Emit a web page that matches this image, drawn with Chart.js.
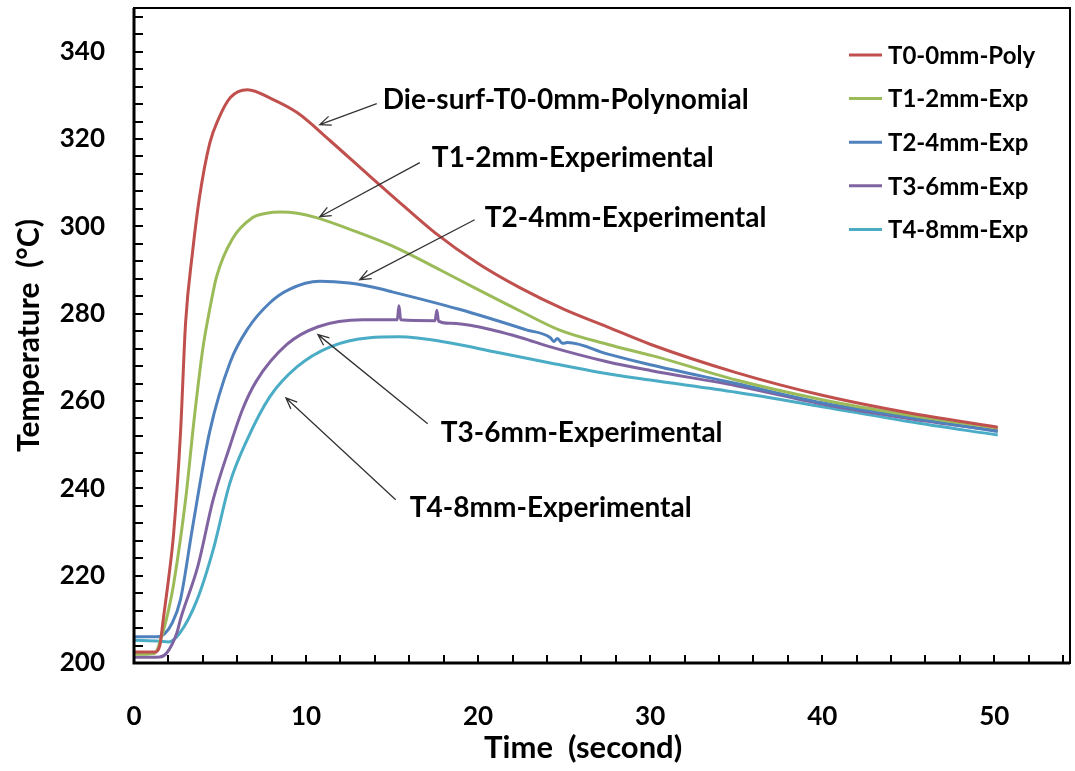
<!DOCTYPE html>
<html>
<head>
<meta charset="utf-8">
<title>Die temperature</title>
<script src="https://cdn.jsdelivr.net/npm/chart.js@4.4.1/dist/chart.umd.min.js"></script>
<style>
  body { margin: 0; background: #fff; }
  #wrap { width: 1075px; height: 771px; }
</style>
</head>
<body>
<div id="wrap"><canvas id="myChart" width="1075" height="771"></canvas></div>
<script>
// series: time (s) and temperature (degC)
const t0Time = [0, 1.2, 1.5, 1.7, 2.0, 2.3, 2.7, 3.0, 3.4, 3.8, 4.4, 4.9, 5.6, 6.6, 8.0, 9.5, 11.4, 13.7, 15, 17.5, 20, 22.5, 25, 27.5, 30, 35, 40, 45, 50.2];
const t0Temp = [202.5, 202.5, 204, 210, 219, 229.5, 252.5, 278, 294, 306.5, 319, 324.5, 329.5, 331.3, 329.2, 326, 319.6, 311.5, 307, 298.5, 291.5, 285.8, 281, 277, 273, 266.5, 261.3, 257.3, 254];

const t1Time = [0, 1.2, 1.6, 2.0, 2.3, 3.0, 3.5, 4.0, 4.4, 4.8, 5.7, 6.9, 7.7, 8.5, 9.5, 10.6, 13.1, 15, 17.8, 20, 22.5, 24.7, 27.5, 30.5, 35, 40, 45, 50.2];
const t1Temp = [202, 202.2, 206, 212, 218, 237.5, 256, 272, 281, 288.5, 297, 302, 303, 303.3, 303, 302, 298.5, 295.5, 290, 285.5, 280.5, 276.3, 273, 270, 264.8, 260.3, 256.8, 253.8];

const t2Time = [0, 1.3, 1.8, 2.2, 2.7, 3.4, 4.4, 5.6, 6.6, 7.9, 9.0, 10.8, 12.5, 13.7, 15, 18.9, 22.8, 24.2, 24.4, 24.6, 24.9, 25.2, 27.5, 30, 35, 40, 45, 50.2];
const t2Temp = [206, 206, 206.8, 209, 214.5, 231, 253, 269, 276.5, 282.5, 285.5, 287.4, 287, 286.2, 285, 281, 276.3, 274.5, 273.6, 274.3, 273.2, 273.4, 270.8, 268.3, 264, 259.6, 256.3, 253];

const t3Time = [0, 1.5, 1.9, 2.5, 2.7, 3.7, 4.6, 5.6, 6.3, 7.1, 8.9, 10.7, 13.3, 15.3, 15.4, 15.5, 17.5, 17.6, 17.7, 18.4, 20, 22.5, 24.2, 27.5, 30, 35, 40, 45, 50.2];
const t3Temp = [201.3, 201.4, 202.3, 207, 210, 222, 237.4, 250, 258, 264.5, 273, 277, 278.6, 278.6, 281.8, 278.6, 278.4, 280.8, 278.3, 277.8, 277, 274.5, 272.4, 269, 267, 263.5, 259.3, 256, 253.2];

const t4Time = [0, 1.5, 2.0, 2.67, 3.66, 4.6, 5.57, 6.56, 7.9, 9.47, 11.4, 13.7, 15.4, 18.4, 21, 24.2, 27, 30, 35, 40, 45, 50.2];
const t4Temp = [205.2, 205, 204.8, 206.9, 214.4, 225.9, 241.2, 251, 261, 267.8, 272.4, 274.5, 274.7, 273.3, 271.2, 268.7, 266.6, 264.8, 262, 258.7, 255.3, 252.2];

const seriesNames = ["T0-0mm-Poly", "T1-2mm-Exp", "T2-4mm-Exp", "T3-6mm-Exp", "T4-8mm-Exp"];
const seriesColors = ["#C0504D", "#9BBB59", "#4F81BD", "#8064A2", "#4BACC6"];

const xTickLabels = [0, 10, 20, 30, 40, 50];
const yTickLabels = [200, 220, 240, 260, 280, 300, 320, 340];

// callout labels: text start (x, y) and arrow from tail to tip, in data units
const calloutText = ["Die-surf-T0-0mm-Polynomial", "T1-2mm-Experimental", "T2-4mm-Experimental", "T3-6mm-Experimental", "T4-8mm-Experimental"];
const calloutAt = [[14.46, 329.0], [17.31, 315.7], [20.38, 302.0], [17.83, 252.7], [16.03, 235.5]];
const calloutTail = [[14.11, 328.1], [16.61, 314.6], [19.80, 301.5], [17.07, 254.8], [15.21, 237.4]];
const calloutTip = [[10.80, 323.3], [10.80, 302.2], [13.12, 287.8], [10.69, 275.2], [8.83, 260.7]];

const FONT = "Lato, 'Open Sans', sans-serif";
const ctx = document.getElementById("myChart").getContext("2d");

function toPoints(xs, ys) {
  return xs.map((x, i) => ({ x: x, y: ys[i] }));
}

const allTimes = [t0Time, t1Time, t2Time, t3Time, t4Time];
const allTemps = [t0Temp, t1Temp, t2Temp, t3Temp, t4Temp];

const datasets = seriesNames.map((name, i) => ({
  label: name,
  data: toPoints(allTimes[i], allTemps[i]),
  borderColor: seriesColors[i],
  backgroundColor: seriesColors[i],
  borderWidth: 3,
  pointRadius: 0,
  cubicInterpolationMode: "monotone",
  fill: false,
}));

// frame, inward minor ticks, legend and callouts
const extras = {
  id: "extras",
  afterDatasetsDraw(chart) {
    const c = chart.ctx;
    const a = chart.chartArea;
    const xs = chart.scales.x;
    const ys = chart.scales.y;
    c.save();
    c.strokeStyle = "#000";
    c.lineWidth = 2;
    c.strokeRect(a.left, a.top, a.right - a.left, a.bottom - a.top);
    c.lineWidth = 3;
    c.beginPath();
    c.moveTo(a.left, a.top);
    c.lineTo(a.left, a.bottom);
    c.lineTo(a.right, a.bottom);
    c.stroke();
    c.lineWidth = 2;
    c.beginPath();
    for (let v = 2; v <= 54; v += 2) {
      const px = Math.round(xs.getPixelForValue(v));
      c.moveTo(px, a.bottom);
      c.lineTo(px, a.bottom - 8);
    }
    for (let v = 204; v <= 348; v += 4) {
      const py = Math.round(ys.getPixelForValue(v));
      c.moveTo(a.left, py);
      c.lineTo(a.left + 9, py);
    }
    c.stroke();

    // legend
    c.font = "bold 24px " + FONT;
    c.textBaseline = "middle";
    c.textAlign = "left";
    chart.data.datasets.forEach((ds, i) => {
      const ly = 55 + i * 43.6;
      c.strokeStyle = ds.borderColor;
      c.lineWidth = 3;
      c.beginPath();
      c.moveTo(849, ly);
      c.lineTo(882, ly);
      c.stroke();
      c.fillStyle = "#000";
      c.fillText(ds.label, 888, ly + 1);
    });

    // callouts
    c.font = "bold 28px " + FONT;
    calloutText.forEach((txt, i) => {
      const tx = xs.getPixelForValue(calloutAt[i][0]);
      const ty = ys.getPixelForValue(calloutAt[i][1]);
      c.fillStyle = "#000";
      c.fillText(txt, tx, ty);
      const x1 = xs.getPixelForValue(calloutTail[i][0]);
      const y1 = ys.getPixelForValue(calloutTail[i][1]);
      const x2 = xs.getPixelForValue(calloutTip[i][0]);
      const y2 = ys.getPixelForValue(calloutTip[i][1]);
      const ang = Math.atan2(y2 - y1, x2 - x1);
      c.strokeStyle = "#333";
      c.lineWidth = 1.3;
      c.beginPath();
      c.moveTo(x1, y1);
      c.lineTo(x2, y2);
      c.moveTo(x2 - 12 * Math.cos(ang - 0.4), y2 - 12 * Math.sin(ang - 0.4));
      c.lineTo(x2, y2);
      c.lineTo(x2 - 12 * Math.cos(ang + 0.4), y2 - 12 * Math.sin(ang + 0.4));
      c.stroke();
    });
    c.restore();
  },
};

const config = {
  type: "line",
  data: { datasets: datasets },
  options: {
    responsive: false,
    animation: false,
    layout: { padding: { top: 8, right: 5, left: 0, bottom: 0 } },
    plugins: { legend: { display: false }, tooltip: { enabled: false } },
    scales: {
      x: {
        type: "linear",
        min: 0,
        max: 54.4,
        afterBuildTicks: (s) => { s.ticks = xTickLabels.map((v) => ({ value: v })); },
        afterFit: (s) => { s.height = 108; s.paddingLeft = 0; s.paddingRight = 0; },
        grid: { display: false, drawTicks: false },
        border: { display: false },
        ticks: { color: "#000", padding: 38, maxRotation: 0, font: { family: FONT, size: 26, weight: "bold" } },
        title: { display: true, text: "Time  (second)     ", color: "#000", padding: { top: 0, bottom: 4 }, font: { family: FONT, size: 31, weight: "bold" } },
      },
      y: {
        type: "linear",
        min: 200,
        max: 350,
        afterBuildTicks: (s) => { s.ticks = yTickLabels.map((v) => ({ value: v })); },
        afterFit: (s) => { s.width = 134; s.paddingTop = 0; s.paddingBottom = 0; },
        grid: { display: false, drawTicks: false },
        border: { display: false },
        ticks: { color: "#000", padding: 29, font: { family: FONT, size: 26, weight: "bold" } },
        title: { display: true, text: "Temperature  (\u00B0C)", color: "#000", padding: { top: 11, bottom: 0 }, font: { family: FONT, size: 30, weight: "bold" } },
      },
    },
  },
  plugins: [extras],
};

new Chart(ctx, config);
</script>
</body>
</html>
